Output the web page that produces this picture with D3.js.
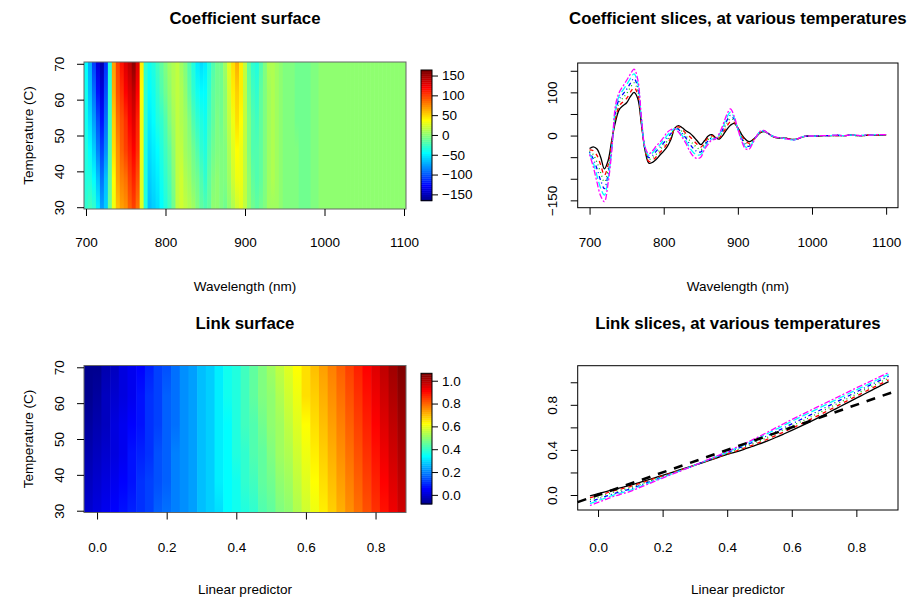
<!DOCTYPE html>
<html>
<head>
<meta charset="utf-8">
<script src="https://cdn.jsdelivr.net/npm/d3@7"></script>
<style>
  body { margin: 0; background: #fff; }
  text { font-family: "Liberation Sans", Arial, Helvetica, sans-serif; }
</style>
</head>
<body>
<svg id="fig" width="917" height="597"></svg>
<script>
// ---- data ----
const temps = [30, 38, 46, 54, 62, 70];

const wavelengths = [700,705,710,715,720,725,730,735,740,745,750,755,760,765,770,775,780,785,790,795,
  800,805,810,815,820,825,830,835,840,845,850,855,860,865,870,875,880,885,890,895,
  900,905,910,915,920,925,930,935,940,945,950,955,960,965,970,975,980,985,990,995,
  1000,1005,1010,1015,1020,1025,1030,1035,1040,1045,1050,1055,1060,1065,1070,1075,1080,1085,1090,1095,1100];

const coefT30 = [-30,-26,-31,-50,-77,-58,-10,32,60,69,76,90,100,86,25,-36,-64,-62,-55,-45,
  -36,-25,-8,17,23,18,11,6,-2,-12,-21,-12,-1,2,-5,-8,1,14,24,28,
  18,3,-8,-14,-10,-2,6,9,6,0,-4,-6,-6,-6,-8,-9,-8,-5,-2,-1,
  -1,-1,-1,0,0,0,0,0,0,0,1,1,0,0,0,1,1,1,1,1,1];
const coefT38 = [-33,-35,-46,-68,-92,-68,-15,40,68,78,86,100,111,95,28,-34,-60,-57,-49,-39,
  -30,-18,-4,17,20,14,5,-2,-11,-20,-27,-16,-5,0,-6,-5,6,21,32,31,
  17,0,-12,-18,-12,-2,7,10,6,0,-4,-6,-6,-6,-8,-9,-8,-5,-2,-1,
  -1,-1,-1,0,0,0,0,0,0,0,1,1,0,0,0,1,1,1,1,1,1];
const coefT46 = [-36,-44,-62,-86,-107,-79,-20,47,76,87,97,111,122,104,32,-33,-55,-51,-43,-33,
  -23,-12,1,17,17,9,-1,-11,-20,-28,-33,-20,-9,-3,-6,-3,11,28,39,35,
  17,-3,-17,-21,-13,-2,8,10,6,0,-4,-6,-6,-6,-8,-9,-8,-5,-2,-1,
  -1,-1,-1,0,0,0,0,1,0,0,1,1,0,0,0,1,1,1,1,2,1];
const coefT54 = [-38,-54,-77,-104,-123,-89,-25,55,84,96,107,121,132,112,35,-31,-51,-46,-36,-27,
  -17,-5,5,16,14,5,-6,-19,-30,-37,-38,-24,-12,-5,-7,0,15,34,47,38,
  16,-6,-21,-25,-15,-2,8,11,6,0,-3,-5,-6,-7,-9,-10,-8,-4,-2,-1,
  -1,-1,0,0,0,0,1,1,0,0,1,1,1,0,1,1,1,1,2,2,2];
const coefT62 = [-41,-63,-93,-122,-138,-100,-30,62,92,105,118,132,143,121,39,-30,-46,-40,-30,-21,
  -10,1,10,16,11,0,-12,-28,-39,-45,-44,-28,-16,-8,-7,2,20,41,54,42,
  15,-9,-26,-28,-16,-2,9,11,6,0,-3,-5,-6,-7,-9,-10,-8,-4,-2,-1,
  -1,-1,0,0,0,0,1,1,0,0,1,1,1,0,1,1,1,2,2,2,2];
const coefT70 = [-44,-72,-108,-140,-153,-110,-35,70,100,114,128,142,154,130,42,-28,-42,-35,-24,-15,
  -4,8,14,16,8,-4,-18,-36,-48,-53,-50,-32,-20,-10,-8,5,25,48,62,45,
  15,-12,-30,-32,-18,-2,10,12,6,0,-3,-5,-6,-7,-9,-10,-8,-4,-2,-1,
  -1,-1,0,0,0,0,1,1,0,0,1,1,1,0,1,1,1,2,2,2,2];

const linkX = [-0.025,0,0.025,0.05,0.075,0.1,0.125,0.15,0.175,0.2,0.225,0.25,0.275,0.3,0.325,0.35,0.375,0.4,0.425,0.45,
  0.475,0.5,0.525,0.55,0.575,0.6,0.625,0.65,0.675,0.7,0.725,0.75,0.775,0.8,0.825,0.85,0.875,0.9];

const linkT30 = [-0.008,0.012,0.031,0.050,0.068,0.086,0.108,0.130,0.153,0.175,0.197,0.220,0.242,0.265,0.288,0.312,0.336,0.360,0.380,0.403,
  0.428,0.453,0.481,0.510,0.541,0.573,0.606,0.640,0.675,0.711,0.748,0.785,0.822,0.859,0.896,0.933,0.970,1.005];
const linkT38 = [-0.025,-0.004,0.017,0.038,0.056,0.075,0.099,0.122,0.147,0.170,0.193,0.217,0.241,0.265,0.289,0.315,0.340,0.365,0.387,0.413,
  0.439,0.466,0.496,0.527,0.559,0.592,0.625,0.660,0.695,0.731,0.767,0.804,0.841,0.877,0.914,0.950,0.986,1.021];
const linkT46 = [-0.042,-0.019,0.003,0.026,0.045,0.064,0.090,0.114,0.140,0.165,0.190,0.215,0.240,0.265,0.291,0.317,0.344,0.370,0.395,0.422,
  0.451,0.480,0.512,0.544,0.578,0.612,0.646,0.680,0.715,0.751,0.787,0.823,0.859,0.895,0.932,0.967,1.003,1.037];
const linkT54 = [-0.059,-0.035,-0.010,0.013,0.033,0.054,0.080,0.107,0.134,0.160,0.186,0.212,0.238,0.265,0.292,0.320,0.347,0.375,0.405,0.432,
  0.463,0.493,0.527,0.561,0.595,0.631,0.665,0.700,0.735,0.770,0.806,0.842,0.878,0.914,0.950,0.985,1.019,1.054];
const linkT62 = [-0.076,-0.050,-0.024,0.001,0.022,0.043,0.071,0.099,0.127,0.155,0.183,0.210,0.237,0.265,0.294,0.322,0.351,0.380,0.412,0.443,
  0.476,0.509,0.545,0.581,0.617,0.654,0.689,0.723,0.758,0.793,0.828,0.863,0.898,0.933,0.967,1.001,1.036,1.070];
const linkT70 = [-0.093,-0.066,-0.038,-0.011,0.010,0.032,0.062,0.091,0.121,0.150,0.179,0.207,0.236,0.265,0.295,0.325,0.355,0.385,0.418,0.451,
  0.485,0.520,0.557,0.595,0.632,0.670,0.705,0.740,0.775,0.810,0.845,0.880,0.915,0.950,0.984,1.018,1.052,1.086];

// reference line in the link slices panel (intercept, slope)
const refIntercept = 0, refSlope = 1;

const coefTicksX = [700, 800, 900, 1000, 1100];
const coefTicksY = [-150, -100, -50, 0, 50, 100, 150];
const coefLabelsY = [-150, 0, 100];
const tempTicks = [30, 40, 50, 60, 70];
const linkTicksX = [0, 0.2, 0.4, 0.6, 0.8];
const linkTicksY = [0, 0.2, 0.4, 0.6, 0.8, 1.0];
const linkLabelsY = [0, 0.4, 0.8];
const coefBarTicks = [-150, -100, -50, 0, 50, 100, 150];
const linkBarTicks = [0, 0.2, 0.4, 0.6, 0.8, 1.0];

const coefSlices = [coefT30, coefT38, coefT46, coefT54, coefT62, coefT70];
const linkSlices = [linkT30, linkT38, linkT46, linkT54, linkT62, linkT70];

// ---- setup ----
const svg = d3.select("#fig");
const FS = 13.5, TFS = 16.8;

// fields::tim.colors(64) style palette
const palScale = d3.scaleLinear()
  .domain([0, 7, 23, 39, 55, 63])
  .range(["#00008F", "#0000FF", "#00FFFF", "#FFFF00", "#FF0000", "#800000"])
  .interpolate(d3.interpolateRgb);
const tim64 = d3.range(64).map(i => d3.color(palScale(i)).formatHex());

const lineCols = ["#000000", "#FF0000", "#00CD00", "#0000FF", "#00FFFF", "#FF00FF"];
const lineDash = [null, "4,4", "1,3", "1,3,4,3", "7,3", "2,2,6,2"];

const boxCoefMap = {x0: 84, x1: 406, y0: 62, y1: 209, title: 24};
const boxCoefLine = {x0: 577.7, x1: 898, y0: 63, y1: 207.7, title: 24};
const boxLinkMap = {x0: 84, x1: 406, y0: 365.5, y1: 512.5, title: 329};
const boxLinkLine = {x0: 577.7, x1: 898, y0: 365.7, y1: 510, title: 329};

const defs = svg.append("defs");

function styleAxis(g) {
  g.attr("font-size", FS).attr("font-family", null);
  g.select(".domain").remove();
}

function xAxis(box, x, ticks, fmt, labelY) {
  const g = svg.append("g").attr("transform", `translate(0,${box.y1})`)
    .call(d3.axisBottom(x).tickValues(ticks).tickSize(7).tickPadding(0).tickFormat(fmt));
  styleAxis(g);
  g.selectAll(".tick text").attr("y", labelY - box.y1).attr("dy", "0.35em");
  return g;
}

function yAxis(box, y, ticks, fmt) {
  const g = svg.append("g").attr("transform", `translate(${box.x0},0)`)
    .call(d3.axisLeft(y).tickValues(ticks).tickSize(7).tickFormat(fmt));
  styleAxis(g);
  g.selectAll(".tick text")
    .attr("x", null).attr("dy", "0.35em")
    .attr("text-anchor", "middle")
    .attr("transform", "translate(-25,0) rotate(-90)");
  return g;
}

function titles(box, main, xlab, xlabY, ylab) {
  const cx = (box.x0 + box.x1) / 2;
  svg.append("text").attr("x", cx).attr("y", box.title)
    .attr("text-anchor", "middle").attr("font-size", TFS).attr("font-weight", "bold").text(main);
  svg.append("text").attr("x", cx).attr("y", xlabY).attr("dy", "0.35em")
    .attr("text-anchor", "middle").attr("font-size", FS).text(xlab);
  if (ylab) {
    svg.append("text")
      .attr("transform", `translate(28,${(box.y0 + box.y1) / 2}) rotate(-90)`)
      .attr("dy", "0.35em").attr("text-anchor", "middle").attr("font-size", FS).text(ylab);
  }
}

// image surface: one column per x value, vertical gradient through the temperature slices
function drawSurface(box, xs, slices, color, xDomain, id) {
  const x = d3.scaleLinear().domain(xDomain).range([box.x0, box.x1]);
  const y = d3.scaleLinear().domain([29.5, 70.5]).range([box.y1, box.y0]);
  const g = svg.append("g");
  xs.forEach((xv, i) => {
    const left = i === 0 ? xDomain[0] : (xs[i - 1] + xv) / 2;
    const right = i === xs.length - 1 ? xDomain[1] : (xv + xs[i + 1]) / 2;
    const grad = defs.append("linearGradient").attr("id", id + i)
      .attr("x1", 0).attr("y1", 1).attr("x2", 0).attr("y2", 0);
    temps.forEach((t, k) => {
      grad.append("stop")
        .attr("offset", (box.y1 - y(t)) / (box.y1 - box.y0))
        .attr("stop-color", color(slices[k][i]));
    });
    const w = x(right) - x(left) + (i === xs.length - 1 ? 0 : 0.6);
    g.append("rect").attr("x", x(left)).attr("y", box.y0)
      .attr("width", w).attr("height", box.y1 - box.y0)
      .attr("fill", `url(#${id}${i})`);
  });
  svg.append("rect").attr("x", box.x0).attr("y", box.y0)
    .attr("width", box.x1 - box.x0).attr("height", box.y1 - box.y0)
    .attr("fill", "none").attr("stroke", "#666").attr("stroke-width", 1);
  return {x, y};
}

function drawColorbar(bar, domain, ticks, fmt) {
  const y = d3.scaleLinear().domain(domain).range([bar.y1, bar.y0]);
  const step = (domain[1] - domain[0]) / tim64.length;
  svg.append("g").selectAll("rect").data(tim64).join("rect")
    .attr("x", bar.x0).attr("width", bar.x1 - bar.x0)
    .attr("y", (c, i) => y(domain[0] + (i + 1) * step))
    .attr("height", (c, i) => y(domain[0] + i * step) - y(domain[0] + (i + 1) * step) + 0.4)
    .attr("fill", c => c);
  svg.append("rect").attr("x", bar.x0).attr("y", bar.y0)
    .attr("width", bar.x1 - bar.x0).attr("height", bar.y1 - bar.y0)
    .attr("fill", "none").attr("stroke", "#000").attr("stroke-width", 1);
  const g = svg.append("g").attr("transform", `translate(${bar.x1},0)`)
    .call(d3.axisRight(y).tickValues(ticks).tickSize(6).tickPadding(4).tickFormat(fmt));
  styleAxis(g);
}

function drawSlices(box, xs, slices, xDomain, yDomain) {
  const x = d3.scaleLinear().domain(xDomain).range([box.x0, box.x1]);
  const y = d3.scaleLinear().domain(yDomain).range([box.y1, box.y0]);
  const line = d3.line().x((d, i) => x(xs[i])).y(d => y(d)).curve(d3.curveCatmullRom.alpha(0.5));
  const g = svg.append("g");
  slices.forEach((s, k) => {
    g.append("path").datum(s).attr("d", line)
      .attr("fill", "none").attr("stroke", lineCols[k])
      .attr("stroke-width", 1.3)
      .attr("stroke-dasharray", lineDash[k]);
  });
  svg.append("rect").attr("x", box.x0).attr("y", box.y0)
    .attr("width", box.x1 - box.x0).attr("height", box.y1 - box.y0)
    .attr("fill", "none").attr("stroke", "#000").attr("stroke-width", 1);
  return {x, y, g};
}

// ---- Coefficient surface ----
const coefColor = d3.scaleQuantize().domain([-166, 164]).range(tim64);
const s1 = drawSurface(boxCoefMap, wavelengths, coefSlices, coefColor, [697.5, 1102.5], "cg");
xAxis(boxCoefMap, s1.x, coefTicksX, d3.format("d"), 242);
yAxis(boxCoefMap, s1.y, tempTicks, d3.format("d"));
titles(boxCoefMap, "Coefficient surface", "Wavelength (nm)", 286, "Temperature (C)");
drawColorbar({x0: 421, x1: 432, y0: 70, y1: 200.7}, [-166, 164], coefBarTicks, d3.format("d"));

// ---- Coefficient slices ----
const s2 = drawSlices(boxCoefLine, wavelengths, coefSlices, [684, 1116], [-167, 168]);
xAxis(boxCoefLine, s2.x, coefTicksX, d3.format("d"), 242);
yAxis(boxCoefLine, s2.y, coefTicksY, d => coefLabelsY.includes(d) ? d3.format("d")(d) : "");
titles(boxCoefLine, "Coefficient slices, at various temperatures", "Wavelength (nm)", 286, null);

// ---- Link surface (image grid stops at the last column below 0.88) ----
const linkColor = d3.scaleQuantize().domain([-0.08, 1.065]).range(tim64);
const nMap = linkX.filter(v => v <= 0.875).length;
const s3 = drawSurface(boxLinkMap, linkX.slice(0, nMap), linkSlices.map(s => s.slice(0, nMap)),
  linkColor, [-0.0375, 0.8875], "lg");
xAxis(boxLinkMap, s3.x, linkTicksX, d3.format(".1f"), 547);
yAxis(boxLinkMap, s3.y, tempTicks, d3.format("d"));
titles(boxLinkMap, "Link surface", "Linear predictor", 589, "Temperature (C)");
drawColorbar({x0: 421, x1: 432, y0: 373.3, y1: 504}, [-0.08, 1.065], linkBarTicks, d3.format(".1f"));

// ---- Link slices ----
const linkXDom = [-0.063, 0.929];
const s4 = drawSlices(boxLinkLine, linkX, linkSlices, linkXDom, [-0.133, 1.147]);
s4.g.append("line")
  .attr("x1", s4.x(linkXDom[0])).attr("y1", s4.y(refIntercept + refSlope * linkXDom[0]))
  .attr("x2", s4.x(linkXDom[1])).attr("y2", s4.y(refIntercept + refSlope * linkXDom[1]))
  .attr("stroke", "#000").attr("stroke-width", 2.6).attr("stroke-dasharray", "9,8");
xAxis(boxLinkLine, s4.x, linkTicksX, d3.format(".1f"), 547);
yAxis(boxLinkLine, s4.y, linkTicksY, d => linkLabelsY.includes(d) ? d3.format(".1f")(d) : "");
titles(boxLinkLine, "Link slices, at various temperatures", "Linear predictor", 589, null);
</script>
</body>
</html>
